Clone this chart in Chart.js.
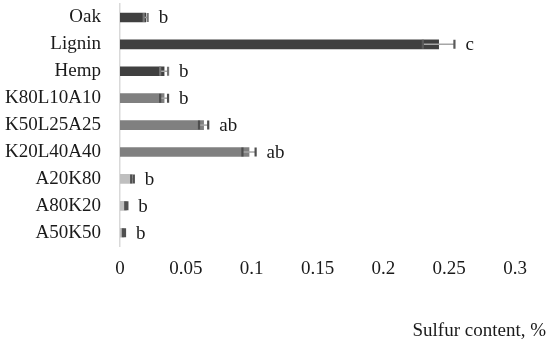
<!DOCTYPE html>
<html>
<head>
<meta charset="utf-8">
<script src="https://cdn.jsdelivr.net/npm/chart.js@4"></script>
<style>
  html, body { margin: 0; padding: 0; background: #fff; }
  #wrap { width: 550px; height: 344px; }
</style>
</head>
<body>
<div id="wrap"><canvas id="sulfur-chart"></canvas></div>
<script>
const samples = ['Oak', 'Lignin', 'Hemp', 'K80L10A10', 'K50L25A25', 'K20L40A40', 'A20K80', 'A80K20', 'A50K50'];
const sulfur = [0.0195, 0.242, 0.0335, 0.0335, 0.0635, 0.098, 0.0095, 0.0048, 0.003];
const sulfurErr = [0.0015, 0.012, 0.003, 0.003, 0.0035, 0.005, 0.001, 0.0008, 0.0008];
const letters = ['b', 'c', 'b', 'b', 'ab', 'ab', 'b', 'b', 'b'];
const xTicks = [0, 0.05, 0.1, 0.15, 0.2, 0.25, 0.3];

const barColors = ['#404040', '#404040', '#404040', '#808080', '#808080', '#808080', '#bfbfbf', '#bfbfbf', '#bfbfbf'];
const capColors = ['#757575', '#5a5a5a', '#757575', '#4d4d4d', '#4d4d4d', '#4d4d4d', '#505050', '#505050', '#505050'];
const serif = "'Liberation Serif', 'DejaVu Serif', serif";

// error bars + significance letters
const errorBars = {
  id: 'errorBars',
  afterDatasetsDraw(chart) {
    const ctx = chart.ctx;
    const x = chart.scales.x;
    const y = chart.scales.y;
    ctx.save();
    samples.forEach((s, i) => {
      const yc = y.getPixelForValue(i);
      const lo = x.getPixelForValue(sulfur[i] - sulfurErr[i]);
      const hi = x.getPixelForValue(sulfur[i] + sulfurErr[i]);
      ctx.strokeStyle = '#a6a6a6';
      ctx.lineWidth = 1.5;
      ctx.beginPath();
      ctx.moveTo(lo, yc);
      ctx.lineTo(hi, yc);
      ctx.stroke();
      ctx.strokeStyle = capColors[i];
      ctx.lineWidth = 2.2;
      ctx.beginPath();
      ctx.moveTo(lo, yc - 4.5);
      ctx.lineTo(lo, yc + 4.5);
      ctx.moveTo(hi, yc - 4.5);
      ctx.lineTo(hi, yc + 4.5);
      ctx.stroke();

      ctx.fillStyle = '#1a1a1a';
      ctx.font = '19px ' + serif;
      ctx.textAlign = 'left';
      ctx.textBaseline = 'middle';
      ctx.fillText(letters[i], hi + 11, yc + 1);
    });
    ctx.textAlign = 'right';
    ctx.textBaseline = 'middle';
    ctx.font = '19px ' + serif;
    ctx.fillText('Sulfur content, %', 546, 331);
    ctx.restore();
  }
};

new Chart(document.getElementById('sulfur-chart'), {
  type: 'bar',
  data: {
    labels: samples,
    datasets: [{
      label: 'Sulfur content',
      data: sulfur,
      backgroundColor: barColors,
      borderWidth: 0,
      barThickness: 9
    }]
  },
  options: {
    indexAxis: 'y',
    responsive: true,
    maintainAspectRatio: false,
    animation: false,
    layout: { padding: { top: 4, right: 35, bottom: 53, left: 0 } },
    plugins: {
      legend: { display: false },
      tooltip: { enabled: false }
    },
    scales: {
      x: {
        min: 0,
        max: 0.3,
        afterBuildTicks: axis => { axis.ticks = xTicks.map(v => ({ value: v })); },
        grid: { display: false, drawTicks: false },
        border: { display: false },
        ticks: {
          padding: 11,
          color: '#1a1a1a',
          font: { family: serif, size: 19 },
          callback: v => String(v)
        }
      },
      y: {
        grid: { display: false, drawTicks: false },
        border: { display: true, color: '#d9d9d9', width: 1.5 },
        afterFit: axis => {
          axis.width = 120;
          axis.paddingTop = 0;
          axis.paddingBottom = 0;
        },
        ticks: {
          autoSkip: false,
          padding: 19,
          color: '#1a1a1a',
          font: { family: serif, size: 19 }
        }
      }
    }
  },
  plugins: [errorBars]
});
</script>
</body>
</html>
